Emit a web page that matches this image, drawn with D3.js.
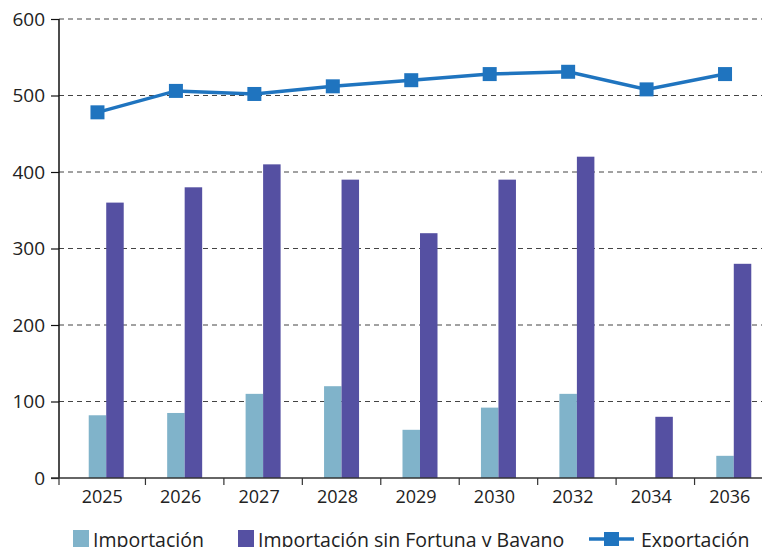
<!DOCTYPE html>
<meta charset="utf-8">
<style>
body { margin: 0; background: #fff; }
text { font-family: "Open Sans", sans-serif; fill: #222; }
</style>
<body>
<script src="https://d3js.org/d3.v7.min.js"></script>
<script>

// data
var years = ["2025", "2026", "2027", "2028", "2029", "2030", "2032", "2034", "2036"];
var importacion = [82, 85, 110, 120, 63, 92, 110, 0, 29];
var importacionSinFB = [360, 380, 410, 390, 320, 390, 420, 80, 280];
var exportacion = [478, 506, 502, 512, 520, 528, 531, 508, 528];
var yTicks = [0, 100, 200, 300, 400, 500, 600];

var W = 762, H = 547;
var plotLeft = 59, plotRight = 762, plotTop = 19, plotBottom = 478;

var svg = d3.select("body").append("svg")
    .attr("width", W)
    .attr("height", H);

var x0 = d3.scaleBand().domain(years).range([67, 773]).paddingInner(0).paddingOuter(0);
var x1 = d3.scaleBand().domain(["imp", "sin"]).range([x0.bandwidth() / 2 - 17.5, x0.bandwidth() / 2 + 17.5]);
var y = d3.scaleLinear().domain([0, 600]).range([plotBottom, plotTop]);

// dashed grid lines
svg.append("g").selectAll("line")
    .data(yTicks.filter(function(d) { return d > 0; }))
  .enter().append("line")
    .attr("x1", plotLeft).attr("x2", plotRight)
    .attr("y1", function(d) { return y(d); })
    .attr("y2", function(d) { return y(d); })
    .attr("stroke", "#444")
    .attr("stroke-width", 1)
    .attr("stroke-dasharray", "5,4");

// bars
var groups = svg.append("g").selectAll("g")
    .data(years)
  .enter().append("g")
    .attr("transform", function(d) { return "translate(" + x0(d) + ",0)"; });

groups.append("rect")
    .attr("x", x1("imp"))
    .attr("width", x1.bandwidth())
    .attr("y", function(d, i) { return y(importacion[i]); })
    .attr("height", function(d, i) { return plotBottom - y(importacion[i]); })
    .attr("fill", "#80b3ca");

groups.append("rect")
    .attr("x", x1("sin"))
    .attr("width", x1.bandwidth())
    .attr("y", function(d, i) { return y(importacionSinFB[i]); })
    .attr("height", function(d, i) { return plotBottom - y(importacionSinFB[i]); })
    .attr("fill", "#5550a2");

// y axis
var yAxis = svg.append("g")
    .attr("transform", "translate(" + plotLeft + ",0)")
    .call(d3.axisLeft(y).tickValues(yTicks).tickSize(8).tickPadding(6));
yAxis.select(".domain").remove();
yAxis.selectAll("line").attr("stroke", "#111").attr("stroke-width", 1.2);
yAxis.selectAll("text").style("font-size", "19px").attr("fill", "#222");
svg.append("line")
    .attr("x1", plotLeft).attr("x2", plotLeft)
    .attr("y1", plotTop).attr("y2", plotBottom)
    .attr("stroke", "#111").attr("stroke-width", 1.5);

// x axis
svg.append("line")
    .attr("x1", plotLeft - 8).attr("x2", plotRight)
    .attr("y1", plotBottom).attr("y2", plotBottom)
    .attr("stroke", "#333").attr("stroke-width", 1.5);
var tickPos = [plotLeft].concat(years.slice(1).map(function(d) { return x0(d); }));
svg.append("g").selectAll("line")
    .data(tickPos)
  .enter().append("line")
    .attr("x1", function(d) { return d; }).attr("x2", function(d) { return d; })
    .attr("y1", plotBottom).attr("y2", plotBottom + 7)
    .attr("stroke", "#333").attr("stroke-width", 1.2);
svg.append("g").selectAll("text")
    .data(years)
  .enter().append("text")
    .attr("x", function(d) { return x0(d) + x0.bandwidth() / 2 - 4; })
    .attr("y", 503)
    .attr("text-anchor", "middle")
    .style("font-size", "18px")
    .text(function(d) { return d; });

// export line
var px = function(d) { return x0(d) + x1("imp") + x1.bandwidth() / 2; };
var line = d3.line()
    .x(function(d) { return px(d); })
    .y(function(d, i) { return y(exportacion[i]); });
svg.append("path")
    .datum(years)
    .attr("d", line)
    .attr("fill", "none")
    .attr("stroke", "#1f74bf")
    .attr("stroke-width", 3.5);
svg.append("g").selectAll("rect")
    .data(years)
  .enter().append("rect")
    .attr("x", function(d) { return px(d) - 7; })
    .attr("y", function(d, i) { return y(exportacion[i]) - 7; })
    .attr("width", 14).attr("height", 14)
    .attr("fill", "#1f74bf");

// legend
var lg = svg.append("g");
lg.append("rect").attr("x", 73).attr("y", 530).attr("width", 16).attr("height", 17).attr("fill", "#80b3ca");
lg.append("text").attr("x", 93).attr("y", 547).style("font-size", "19.5px").text("Importación");
lg.append("rect").attr("x", 238).attr("y", 530).attr("width", 16).attr("height", 17).attr("fill", "#5550a2");
lg.append("text").attr("x", 258).attr("y", 547).style("font-size", "19.5px").text("Importación sin Fortuna y Bayano");
lg.append("line").attr("x1", 589).attr("x2", 634).attr("y1", 539).attr("y2", 539)
    .attr("stroke", "#1f74bf").attr("stroke-width", 3.5);
lg.append("rect").attr("x", 604).attr("y", 532).attr("width", 15).attr("height", 14).attr("fill", "#1f74bf");
lg.append("text").attr("x", 641).attr("y", 547).style("font-size", "19.5px").text("Exportación");

</script>
</body>
